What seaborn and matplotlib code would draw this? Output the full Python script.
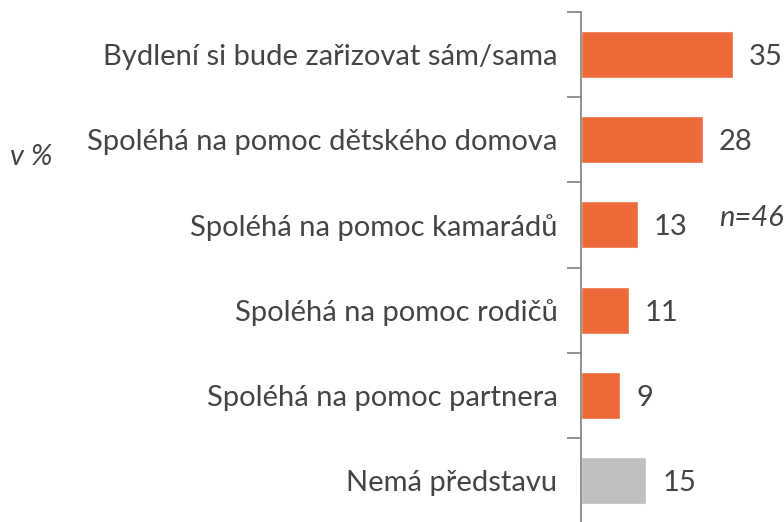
import pandas as pd
import seaborn as sns
import matplotlib.pyplot as plt
from matplotlib.ticker import FixedLocator

categories = [
    "Bydlení si bude zařizovat sám/sama",
    "Spoléhá na pomoc dětského domova",
    "Spoléhá na pomoc kamarádů",
    "Spoléhá na pomoc rodičů",
    "Spoléhá na pomoc partnera",
    "Nemá představu",
]
values = [35, 28, 13, 11, 9, 15]
colors = ["#EE6A3A"] * 5 + ["#BFBFBF"]

df = pd.DataFrame({"category": categories, "value": values})

sns.set_style("white")
plt.rcParams["font.family"] = ["Lato", "DejaVu Sans"]
text_color = "#444444"
fs = 21

fig = plt.figure(figsize=(7.84, 5.22), dpi=100)
ax = fig.add_axes([581 / 784, -1 / 522, 1 - 581 / 784, 511 / 522])

sns.barplot(data=df, y="category", x="value", hue="category", palette=colors,
            saturation=1, legend=False, width=0.55, ax=ax, orient="h")

ax.set_xlim(0, 46.7)
ax.set_ylim(len(categories) - 0.5, -0.5)
ax.set_xlabel("")
ax.set_ylabel("")
ax.set_xticks([])

for i, v in enumerate(values):
    ax.text(v + 3.7, i + 0.03, str(v), va="center", ha="left", fontsize=fs, color=text_color)

ax.tick_params(axis="y", which="major", length=0, pad=17, labelsize=fs, labelcolor=text_color)
ax.yaxis.set_minor_locator(FixedLocator([i - 0.5 for i in range(len(categories) + 1)]))
ax.tick_params(axis="y", which="minor", length=10, width=1.2, color="#808080", left=True)

for s in ["top", "right", "bottom"]:
    ax.spines[s].set_visible(False)
ax.spines["left"].set_color("#808080")
ax.spines["left"].set_linewidth(1.2)

fig.text(10 / 784, 1 - 157 / 522, "v %", fontsize=fs, style="italic", color=text_color, va="center")
fig.text(719 / 784, 1 - 218 / 522, "n=46", fontsize=fs, style="italic", color=text_color, va="center")

fig.savefig("out.png", dpi=100)
